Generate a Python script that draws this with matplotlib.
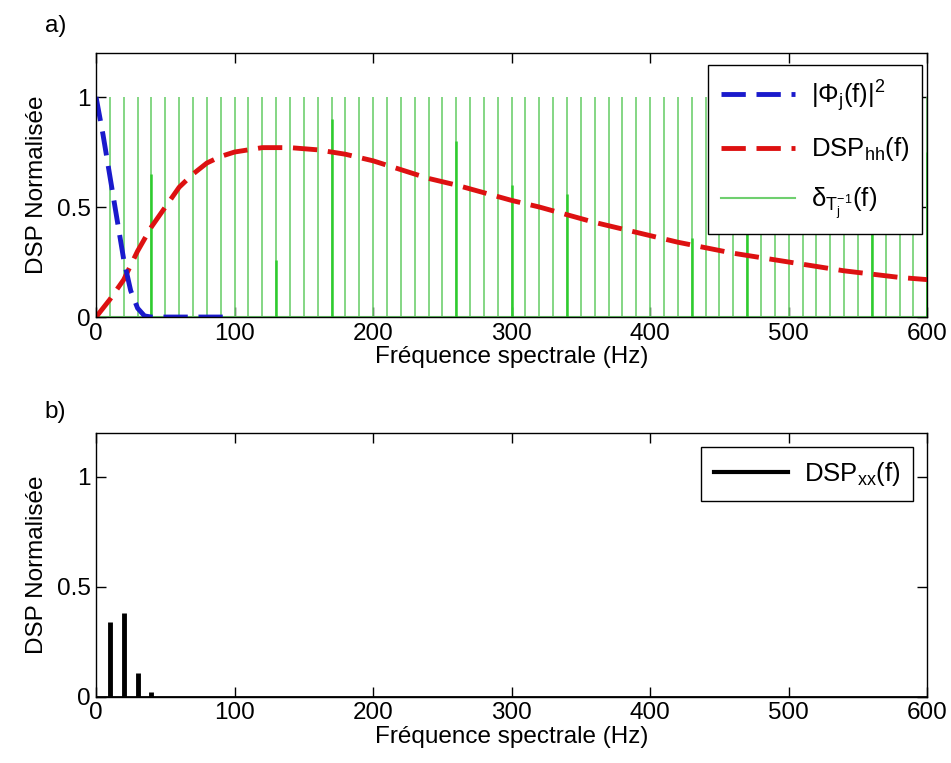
import numpy as np
from matplotlib import pyplot as plt

plt.rcParams['font.family'] = ['Liberation Sans', 'DejaVu Sans']
plt.rcParams['mathtext.fontset'] = 'custom'
plt.rcParams['mathtext.rm'] = 'Liberation Sans'
plt.rcParams['mathtext.it'] = 'Liberation Sans'
plt.rcParams['mathtext.default'] = 'regular'

############### data ###################
# comb of the sampling frequency 1/Tj (every 10 Hz)
comb_f = np.arange(0, 610, 10)
comb_h = np.ones(len(comb_f))

# some brighter comb lines
peak_f = [40, 130, 170, 260, 300, 340, 430, 470, 560, 600]
peak_h = [0.65, 0.26, 0.90, 0.80, 0.60, 0.56, 0.36, 0.50, 0.50, 0.75]

# |Phi_j(f)|^2
phi_f = [0, 5, 10, 15, 20, 25, 30, 35, 40, 50, 60, 70, 80, 90, 95]
phi_v = [1.0, 0.83, 0.64, 0.45, 0.26, 0.12, 0.04, 0.005, 0, 0, 0, 0, 0, 0, 0]

# DSP_hh(f)
hh_f = [0, 10, 20, 30, 40, 50, 60, 70, 80, 90, 100, 120, 140, 160, 180, 200,
        220, 240, 260, 280, 300, 320, 340, 360, 380, 400, 420, 440, 460, 480,
        500, 520, 540, 560, 580, 600]
hh_v = [0, 0.08, 0.17, 0.30, 0.41, 0.50, 0.59, 0.65, 0.70, 0.73, 0.75, 0.77,
        0.77, 0.76, 0.74, 0.71, 0.67, 0.63, 0.60, 0.565, 0.53, 0.50, 0.465,
        0.43, 0.40, 0.37, 0.34, 0.315, 0.29, 0.27, 0.25, 0.23, 0.21, 0.195,
        0.18, 0.17]

# DSP_xx(f)
xx_f = [10, 20, 30, 40]
xx_v = [0.34, 0.38, 0.11, 0.02]
xx_base = [0, 600]

xticks = [0, 100, 200, 300, 400, 500, 600]
yticks = [0, 0.5, 1]
xlabel = 'Fréquence spectrale (Hz)'
ylabel = 'DSP Normalisée'

light_green = '#6fcf6f'
bright_green = '#2ecc2e'
red = '#dd1111'
blue = '#1a1acc'

############### figure ###################
fig = plt.figure(figsize=(9.51, 7.63), dpi=100)
ax1 = fig.add_axes([0.101, 0.5845, 0.874, 0.346])
ax2 = fig.add_axes([0.101, 0.0869, 0.874, 0.3456])


def style(ax):
    ax.set_xlim(0, 600)
    ax.set_ylim(0, 1.2)
    ax.set_xticks(xticks)
    ax.set_yticks(yticks)
    ax.set_yticklabels(['0', '0.5', '1'])
    ax.tick_params(direction='in', length=7, width=1, labelsize=17.5,
                   top=True, right=True, pad=4)
    ax.set_xlabel(xlabel, fontsize=17.5, labelpad=1)
    ax.set_ylabel(ylabel, fontsize=17.5, labelpad=6)
    for s in ax.spines.values():
        s.set_linewidth(1)
        s.set_color('black')


# a)
ax1.vlines(comb_f, 0, comb_h, color=light_green, lw=1.2)
ax1.axhline(0, color=light_green, lw=1.5)
ax1.vlines(peak_f, 0, peak_h, color=bright_green, lw=1.8)
l_comb, = ax1.plot([], [], color=light_green, lw=1.5)
l_hh, = ax1.plot(hh_f, hh_v, color=red, lw=3.5, ls=(0, (5, 2.2)))
l_phi, = ax1.plot(phi_f, phi_v, color=blue, lw=3.5, ls=(0, (5, 2.2)))
style(ax1)
leg1 = ax1.legend([l_phi, l_hh, l_comb],
                  [r'$|\Phi_j(f)|^2$', r'$DSP_{hh}(f)$', r'$\delta_{T_j^{-1}}(f)$'],
                  loc='upper right', bbox_to_anchor=(0.994, 0.955),
                  borderaxespad=0, fontsize=18.5, handlelength=2.9,
                  labelspacing=0.85, borderpad=0.5, handletextpad=0.6,
                  fancybox=False, framealpha=1, edgecolor='black')
leg1.get_frame().set_linewidth(1)

# b)
ax2.plot(xx_base, [0, 0], color='black', lw=2)
ax2.vlines(xx_f, 0, xx_v, color='black', lw=3.5)
l_xx, = ax2.plot([], [], color='black', lw=3)
style(ax2)
leg2 = ax2.legend([l_xx], [r'$DSP_{xx}(f)$'], loc='upper right',
                  bbox_to_anchor=(0.983, 0.947), borderaxespad=0,
                  fontsize=18.5, handlelength=2.9, borderpad=0.5,
                  handletextpad=0.6, fancybox=False, framealpha=1,
                  edgecolor='black')
leg2.get_frame().set_linewidth(1)

fig.text(0.047, 0.958, 'a)', fontsize=17.5)
fig.text(0.047, 0.452, 'b)', fontsize=17.5)

fig.savefig('out.png', dpi=100)
